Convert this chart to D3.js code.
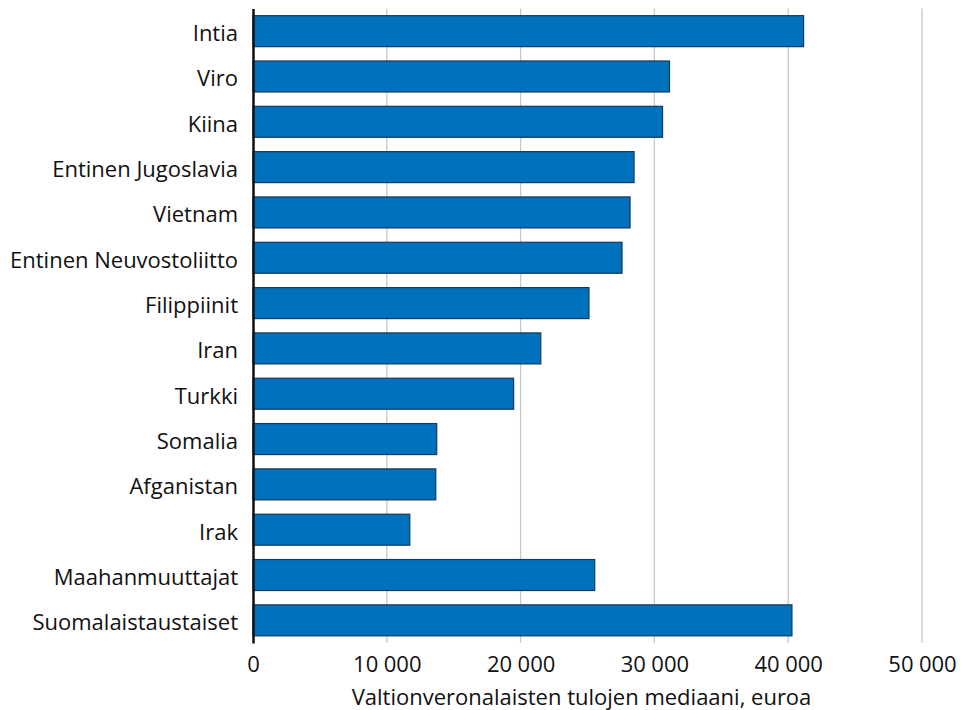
<!DOCTYPE html>
<html>
<head>
<meta charset="utf-8">
<script src="https://d3js.org/d3.v7.min.js"></script>
<style>
  body { margin: 0; background: #fff; }
  text { font-family: "Open Sans", "Liberation Sans", sans-serif; fill: #111; }
</style>
</head>
<body>
<div id="chart"></div>
<script>
// data
var categories = ["Intia", "Viro", "Kiina", "Entinen Jugoslavia", "Vietnam",
  "Entinen Neuvostoliitto", "Filippiinit", "Iran", "Turkki", "Somalia",
  "Afganistan", "Irak", "Maahanmuuttajat", "Suomalaistaustaiset"];
var medianIncome = [41150, 31130, 30610, 28480, 28180, 27580, 25110, 21510,
  19480, 13730, 13660, 11720, 25540, 40280];
var xTicks = [0, 10000, 20000, 30000, 40000, 50000];
var xTitle = "Valtionveronalaisten tulojen mediaani, euroa";

var W = 963, H = 710;
var margin = {top: 8.5, right: 41, bottom: 67, left: 253};
var width = W - margin.left - margin.right;
var height = H - margin.top - margin.bottom;

var svg = d3.select("#chart").append("svg")
    .attr("width", W)
    .attr("height", H);
var g = svg.append("g")
    .attr("transform", "translate(" + margin.left + "," + margin.top + ")");

var x = d3.scaleLinear().domain([0, 50000]).range([0, width]);
var y = d3.scaleBand().domain(categories).range([0, height])
    .paddingInner(0.316).paddingOuter(0.158);

var fmt = function(d) { return d === 0 ? "0" : d3.format(",")(d).replace(/,/g, "\u2005"); };

// gridlines
g.append("g").selectAll("line")
    .data(xTicks.slice(1))
    .enter().append("line")
    .attr("x1", d => x(d)).attr("x2", d => x(d))
    .attr("y1", 0).attr("y2", height)
    .attr("stroke", "#c8c8c8")
    .attr("stroke-width", 1.3);

// bars
g.append("g").selectAll("rect")
    .data(categories)
    .enter().append("rect")
    .attr("x", 0)
    .attr("y", d => y(d))
    .attr("width", (d, i) => x(medianIncome[i]))
    .attr("height", y.bandwidth())
    .attr("fill", "#0071bc")
    .attr("stroke", "#173a5a")
    .attr("stroke-width", 1.2);

// x axis labels
var xAxis = g.append("g")
    .attr("transform", "translate(0," + height + ")")
    .call(d3.axisBottom(x).tickValues(xTicks).tickFormat(fmt).tickSize(0).tickPadding(13));
xAxis.select(".domain").remove();
xAxis.selectAll("text").style("font-size", "22px").attr("fill", "#111");

// y axis
var yAxis = g.append("g")
    .call(d3.axisLeft(y).tickSize(0).tickPadding(15));
yAxis.select(".domain").attr("stroke", "#111").attr("stroke-width", 2.5);
yAxis.selectAll("text").style("font-size", "22px").attr("fill", "#111")
    .attr("dy", "0.45em");

// axis title
g.append("text")
    .attr("x", width / 2 - 6)
    .attr("y", height + 62)
    .attr("text-anchor", "middle")
    .style("font-size", "22px")
    .text(xTitle);
</script>
</body>
</html>
